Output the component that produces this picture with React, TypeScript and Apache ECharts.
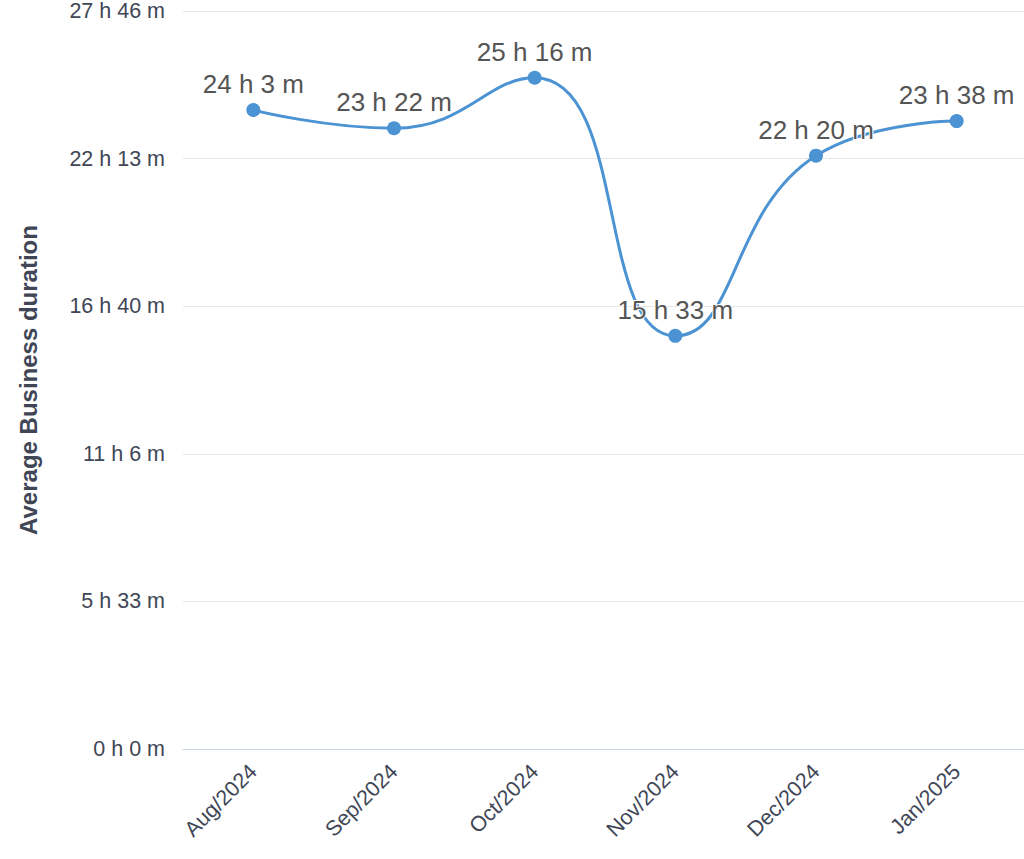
import React, { useEffect, useRef } from "react";
import * as echarts from "echarts";

const categories = ["Aug/2024", "Sep/2024", "Oct/2024", "Nov/2024", "Dec/2024", "Jan/2025"];
// average business duration in seconds
const durationSeconds = [86580, 84120, 90960, 55980, 80400, 85080];
const yMax = 100000;
const yInterval = 20000;

function fmt(v: number): string {
  const h = Math.floor(v / 3600);
  const m = Math.floor((v % 3600) / 60);
  return `${h} h ${m} m`;
}

export default function App() {
  const ref = useRef<HTMLDivElement>(null);
  useEffect(() => {
    if (!ref.current) return;
    const chart = echarts.init(ref.current, undefined, { renderer: "svg" });
    chart.setOption({
      animation: false,
      textStyle: { fontFamily: "Liberation Sans, Arial, sans-serif" },
      grid: { left: 183, top: 9, width: 844, height: 740, containLabel: false },
      xAxis: {
        type: "category",
        data: categories,
        boundaryGap: true,
        axisLine: { show: true, lineStyle: { color: "#ccd6eb", width: 1 } },
        axisTick: { show: false },
        axisLabel: { rotate: 45, margin: 19, fontSize: 21.5, color: "#404656" },
      },
      yAxis: {
        type: "value",
        min: 0,
        max: yMax,
        interval: yInterval,
        name: "Average Business duration",
        nameLocation: "middle",
        nameGap: 143,
        nameTextStyle: { fontSize: 24, fontWeight: "bold", color: "#404656" },
        axisLine: { show: false },
        axisTick: { show: false },
        splitLine: { lineStyle: { color: "#e6e6e6", width: 1 } },
        axisLabel: { formatter: (v: number) => fmt(v), fontSize: 21.5, color: "#404656", margin: 18 },
      },
      series: [
        {
          type: "line",
          data: durationSeconds,
          smooth: 0.5,
          symbol: "circle",
          symbolSize: 14,
          itemStyle: { color: "#4b93d3" },
          lineStyle: { color: "#4b93d3", width: 3 },
          label: {
            show: true,
            position: "top",
            distance: 6,
            formatter: (p: any) => fmt(p.value),
            fontSize: 26,
            color: "#555555",
            textBorderColor: "#ffffff",
            textBorderWidth: 2,
          },
        },
      ],
    });
    return () => chart.dispose();
  }, []);
  return (
    <div style={{ position: "fixed", left: 0, top: 0, width: 1024, height: 859, overflow: "hidden", background: "#fff" }}>
      <div ref={ref} style={{ width: 1040, height: 859 }} />
    </div>
  );
}
